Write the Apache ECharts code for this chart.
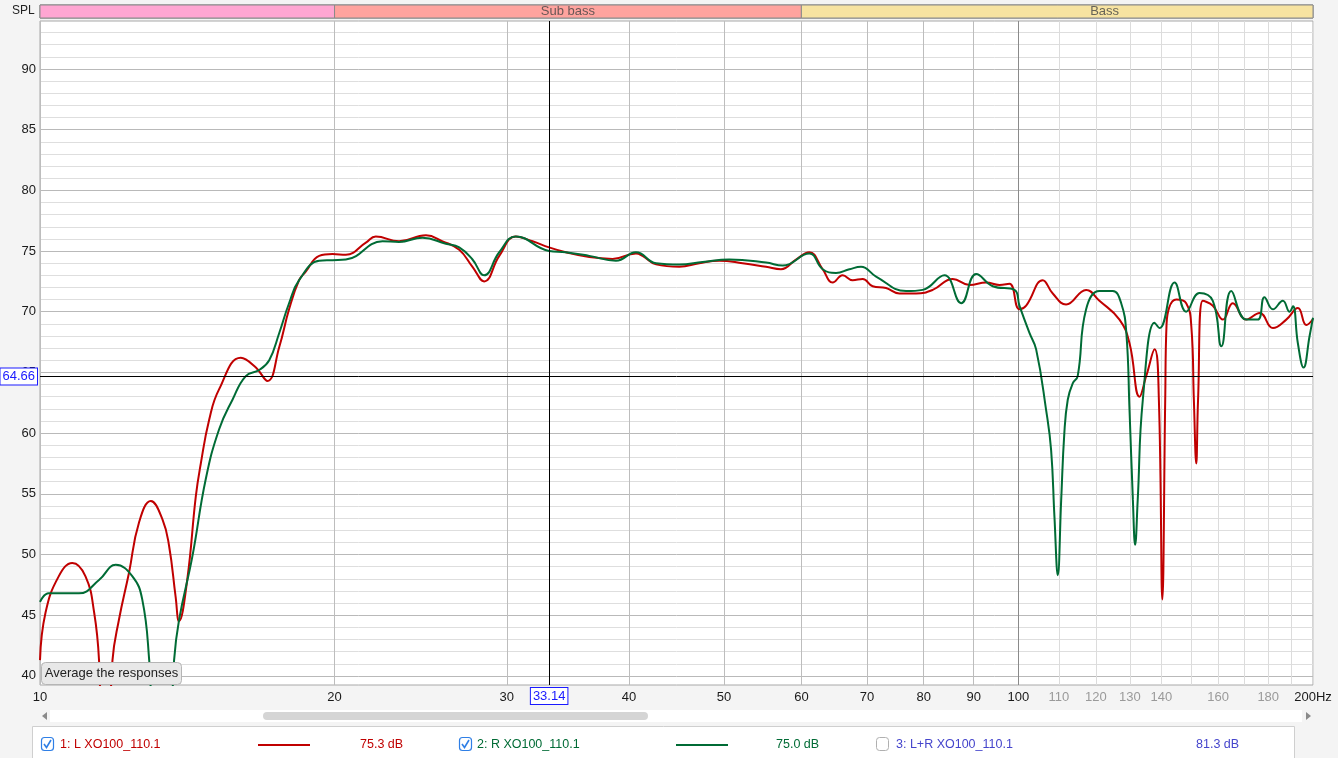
<!DOCTYPE html>
<html>
<head>
<meta charset="utf-8">
<script src="https://cdn.jsdelivr.net/npm/echarts@6/dist/echarts.min.js"></script>
<style>
html,body{margin:0;padding:0;background:#f4f4f4;}
#c{width:1338px;height:758px;}
</style>
</head>
<body>
<div id="c"></div>
<script>
// ---------- data ----------
const freqL = [10.0,10.13,10.45,10.79,11.13,11.36,11.49,11.6,11.7,11.86,12.04,12.33,12.62,12.98,13.34,13.55,13.76,13.87,14.14,14.43,14.6,14.89,15.24,16.04,16.62,17.08,17.56,17.97,18.4,18.69,19.29,19.9,20.54,21.53,22.04,23.28,24.8,25.79,26.82,27.67,28.44,29.47,30.64,31.87,33.14,34.46,36.42,38.47,40.65,41.29,42.62,45.02,47.19,49.46,52.24,55.21,57.19,59.24,61.13,63.08,64.58,66.12,67.69,69.31,70.96,73.23,75.56,78.59,81.73,85.67,89.12,92.69,95.63,97.91,100.23,101.83,105.88,108.41,111.86,117.26,120.99,126.84,129.87,132.96,135.08,137.76,139.16,140.3,141.25,141.7,144.98,148.4,150.2,151.1,151.95,152.6,154.3,158.0,161.8,165.6,170.9,176.4,182.0,187.8,193.0,196.9,200];
const splL = [41.3,45.2,48.2,49.3,48.2,45.2,41.3,31,31,41.3,44.6,48.5,52.6,54.4,52.9,50.7,46.5,44.5,47.9,54.8,57.5,61.1,63.6,66.2,65.4,64.3,67.1,70.2,72.6,73.3,74.6,74.75,74.7,75.7,76.2,75.8,76.3,75.8,75.1,73.7,72.5,74.6,76.2,75.8,75.3,74.9,74.5,74.35,74.8,74.6,73.9,73.7,74.0,74.2,74.0,73.7,73.5,74.3,74.9,73.5,72.4,73.0,72.6,72.7,72.1,71.95,71.5,71.5,71.8,72.7,72.2,72.4,72.2,72.3,70.2,70.5,72.6,71.5,70.6,71.8,70.9,69.35,67.4,63.0,64.7,66.9,62.75,46.3,62.75,69.0,71.0,70.7,68.8,62.75,57.5,62.75,70.9,70.5,69.35,70.7,69.35,69.9,68.65,69.35,70.3,68.9,69.4];

const freqR = [10.0,10.21,10.96,11.49,11.95,12.43,12.72,12.93,13.15,13.5,13.71,13.87,14.31,14.77,15.24,15.73,16.23,16.75,17.15,17.56,17.97,18.4,19.29,19.9,20.54,22.39,23.28,24.6,25.99,26.82,27.67,28.44,29.47,30.64,33.14,34.46,36.42,38.78,40.65,42.62,45.02,47.56,50.63,55.21,57.41,61.13,63.08,65.1,67.18,69.04,71.53,76.76,79.82,84.01,87.39,90.54,94.13,99.06,100.23,102.62,104.25,106.73,107.99,108.84,109.69,110.58,111.4,112.3,113.62,114.96,117.26,120.99,124.85,127.35,128.9,129.87,130.9,131.6,132.4,134.0,137.76,139.39,144.4,148.4,153.1,158.0,161.2,165.0,170.9,175.6,178.4,182.0,186.3,189.3,190.8,193.0,195.6,198.4,200];
const splR = [46.1,46.8,46.8,47.9,49.15,48.2,46.3,41.3,32,32,41.3,44.6,49.8,56.2,60.3,62.75,64.7,65.2,66.0,68.25,70.7,72.6,74.2,74.25,74.3,75.8,75.75,76.1,75.6,75.3,74.3,73.0,74.9,76.2,75.0,74.9,74.6,74.2,74.9,74.0,73.9,74.1,74.3,74.05,73.8,74.8,73.5,73.2,73.5,73.7,72.9,71.7,71.8,73.0,70.7,73.1,72.1,71.8,70.5,68.25,66.9,61.9,58.6,53.1,48.3,54.5,60.0,62.75,64.1,64.7,70.2,71.7,71.7,70.7,68.25,61.9,54.5,50.8,54.5,62.75,69.1,68.65,72.4,70.0,71.55,70.9,67.15,71.7,69.35,69.35,71.2,70.2,70.9,70.0,70.45,67.4,65.4,68.0,69.5];

const xTicks = [10,20,30,40,50,60,70,80,90,100,110,120,130,140,150,160,170,180,190,200];
const xLabels = [10,20,30,40,50,60,70,80,90,100,110,120,130,140,160,180,200];
const yTicks = [40,41,42,43,44,45,46,47,48,49,50,51,52,53,54,55,56,57,58,59,60,61,62,63,64,65,66,67,68,69,70,71,72,73,74,75,76,77,78,79,80,81,82,83,84,85,86,87,88,89,90,91,92,93];
const yLabels = [40,45,50,55,60,65,70,75,80,85,90];

const bandNames = ['', 'Sub bass', 'Bass'];
const bandEdges = [[10, 20], [20, 60], [60, 250]];

const cursorHz = 33.14;
const cursorDb = 64.66;

const legendNames = ['1: L XO100_110.1', '2: R XO100_110.1', '3: L+R XO100_110.1'];
const legendLevels = ['75.3 dB', '75.0 dB', '81.3 dB'];

// ---------- styles ----------
const RED = '#c00000';
const GREEN = '#006b35';
const BLUE = '#4545cc';
const FONT = '"Liberation Sans", Arial, Helvetica, sans-serif';
const bandColors = ['#ffa6d2', '#ffa39e', '#f7e3a1'];

function xLineColor(v) {
  if (v === 100) return '#8a8a8a';
  if (v > 100) return '#dcdcdc';
  return '#bdbdbd';
}
function xLabelColor(v) {
  if (v > 100 && v < 200) return '#9a9a9a';
  return '#1a1a1a';
}

const chart = echarts.init(document.getElementById('c'), null, {renderer: 'canvas'});

const gridLines = xTicks.map(v => {
  const has = xLabels.indexOf(v) >= 0;
  return {
    xAxis: v,
    lineStyle: {color: xLineColor(v), width: 1, type: 'solid'},
    label: {
      show: has,
      position: 'start',
      distance: 6,
      formatter: v === 200 ? '200Hz' : String(v),
      color: xLabelColor(v),
      fontSize: 13,
      fontFamily: FONT
    }
  };
});

const option = {
  animation: false,
  backgroundColor: '#f4f4f4',
  grid: [
    {left: 40, right: 25, top: 21, bottom: 73, show: true, backgroundColor: '#ffffff', borderColor: '#a8a8a8', borderWidth: 1},
    {left: 40, right: 25, top: 5, height: 13, show: true, backgroundColor: 'transparent', borderColor: '#777777', borderWidth: 1}
  ],
  xAxis: [
    {type: 'log', gridIndex: 0, min: 10, max: 200, logBase: 10,
      axisLine: {show: false}, axisTick: {show: false}, axisLabel: {show: false}, splitLine: {show: false}},
    {type: 'log', gridIndex: 1, min: 10, max: 200, logBase: 10,
      axisLine: {show: false}, axisTick: {show: false}, axisLabel: {show: false}, splitLine: {show: false}}
  ],
  yAxis: [
    {type: 'value', gridIndex: 0, min: 39.25, max: 93.95,
      axisLine: {show: false},
      axisTick: {show: false, customValues: yTicks},
      axisLabel: {customValues: yLabels, color: '#1a1a1a', fontSize: 13, fontFamily: FONT, margin: 4},
      splitLine: {show: true, lineStyle: {color: ['#b9b9b9', '#dedede', '#dedede', '#dedede', '#dedede'], width: 1}}},
    {type: 'value', gridIndex: 1, min: 0, max: 1, show: false}
  ],
  series: [
    {
      type: 'line', name: 'grid', xAxisIndex: 0, yAxisIndex: 0, data: [], silent: true, z: 1,
      markLine: {silent: true, symbol: ['none', 'none'], z: 1, animation: false, data: gridLines}
    },
    {
      type: 'line', name: legendNames[0], xAxisIndex: 0, yAxisIndex: 0,
      data: freqL.map((f, i) => [f, splL[i]]),
      smooth: 0.45, showSymbol: false, clip: true, z: 3,
      lineStyle: {color: RED, width: 2}, itemStyle: {color: RED}
    },
    {
      type: 'line', name: legendNames[1], xAxisIndex: 0, yAxisIndex: 0,
      data: freqR.map((f, i) => [f, splR[i]]),
      smooth: 0.45, showSymbol: false, clip: true, z: 4,
      lineStyle: {color: GREEN, width: 2}, itemStyle: {color: GREEN}
    },
    {
      type: 'line', name: 'cursor', xAxisIndex: 0, yAxisIndex: 0, data: [], silent: true, z: 10,
      markLine: {
        silent: true, symbol: ['none', 'none'], z: 10, animation: false,
        lineStyle: {color: '#000', width: 1, type: 'solid'},
        data: [
          {xAxis: cursorHz, label: {show: true, position: 'start', distance: 3, formatter: String(cursorHz),
            color: '#1a1aff', fontSize: 13, fontFamily: FONT, backgroundColor: '#fff', borderColor: '#1a1aff', borderWidth: 1, padding: [2, 2, 1, 2]}},
          {yAxis: cursorDb, label: {show: true, position: 'start', distance: 3, formatter: String(cursorDb),
            color: '#1a1aff', fontSize: 13, fontFamily: FONT, backgroundColor: '#fff', borderColor: '#1a1aff', borderWidth: 1, padding: [2, 2, 1, 2]}}
        ]
      }
    },
    {
      type: 'line', name: 'bands', xAxisIndex: 1, yAxisIndex: 1, data: [], silent: true,
      markArea: {
        silent: true, animation: false,
        data: bandEdges.map((e, i) => [
          {xAxis: Math.max(e[0], 10), itemStyle: {color: bandColors[i], borderColor: '#8a8a8a', borderWidth: 1}},
          {xAxis: Math.min(e[1], 200)}
        ])
      }
    },
    {
      type: 'scatter', name: 'bandLabels', xAxisIndex: 1, yAxisIndex: 1, silent: true,
      symbolSize: 1, itemStyle: {color: 'rgba(0,0,0,0)'},
      data: bandEdges.map((e, i) => ({value: [Math.sqrt(e[0] * e[1]), 0.5], name: bandNames[i]})),
      label: {show: true, position: 'inside', formatter: p => p.name, color: '#444', fontSize: 13, fontFamily: FONT}
    }
  ],
  graphic: [
    {type: 'text', left: 12, top: 5, style: {text: 'SPL', fill: '#222', font: '12px ' + FONT}},
    // "Average the responses" button
    {type: 'rect', shape: {x: 41.5, y: 662.5, width: 140, height: 22, r: 4}, style: {fill: '#e8e8e8', stroke: '#b5b5b5', lineWidth: 1}, z: 20},
    {type: 'text', x: 111.5, y: 673.5, style: {text: 'Average the responses', fill: '#222', font: '13px ' + FONT, align: 'center', verticalAlign: 'middle'}, z: 21},
    // scrollbar
    {type: 'rect', shape: {x: 50, y: 710, width: 1252, height: 12}, style: {fill: '#ffffff'}},
    {type: 'rect', shape: {x: 263, y: 712, width: 385, height: 8, r: 4}, style: {fill: '#d5d5d5'}},
    {type: 'polygon', shape: {points: [[42, 716], [47, 712], [47, 720]]}, style: {fill: '#8a8a8a'}},
    {type: 'polygon', shape: {points: [[1311, 716], [1306, 712], [1306, 720]]}, style: {fill: '#8a8a8a'}},
    // legend panel
    {type: 'rect', shape: {x: 32.5, y: 726.5, width: 1262, height: 40}, style: {fill: '#ffffff', stroke: '#cfcfcf', lineWidth: 1}},
    // item 1
    {type: 'rect', shape: {x: 41.5, y: 737.5, width: 12, height: 13, r: 3}, style: {fill: '#fff', stroke: '#2f7fe6', lineWidth: 1.2}},
    {type: 'polyline', shape: {points: [[44, 744], [46.5, 747.5], [51, 740]]}, style: {stroke: '#2f7fe6', lineWidth: 1.6, fill: null}},
    {type: 'text', x: 60, y: 744.5, style: {text: legendNames[0], fill: RED, font: '12.5px ' + FONT, verticalAlign: 'middle'}},
    {type: 'line', shape: {x1: 258, y1: 745, x2: 310, y2: 745}, style: {stroke: RED, lineWidth: 2}},
    {type: 'text', x: 360, y: 744.5, style: {text: legendLevels[0], fill: RED, font: '12.5px ' + FONT, verticalAlign: 'middle'}},
    // item 2
    {type: 'rect', shape: {x: 459.5, y: 737.5, width: 12, height: 13, r: 3}, style: {fill: '#fff', stroke: '#2f7fe6', lineWidth: 1.2}},
    {type: 'polyline', shape: {points: [[462, 744], [464.5, 747.5], [469, 740]]}, style: {stroke: '#2f7fe6', lineWidth: 1.6, fill: null}},
    {type: 'text', x: 477, y: 744.5, style: {text: legendNames[1], fill: GREEN, font: '12.5px ' + FONT, verticalAlign: 'middle'}},
    {type: 'line', shape: {x1: 676, y1: 745, x2: 728, y2: 745}, style: {stroke: GREEN, lineWidth: 2}},
    {type: 'text', x: 776, y: 744.5, style: {text: legendLevels[1], fill: GREEN, font: '12.5px ' + FONT, verticalAlign: 'middle'}},
    // item 3
    {type: 'rect', shape: {x: 876.5, y: 737.5, width: 12, height: 13, r: 3}, style: {fill: '#fff', stroke: '#b0b0b0', lineWidth: 1}},
    {type: 'text', x: 896, y: 744.5, style: {text: legendNames[2], fill: BLUE, font: '12.5px ' + FONT, verticalAlign: 'middle'}},
    {type: 'text', x: 1196, y: 744.5, style: {text: legendLevels[2], fill: BLUE, font: '12.5px ' + FONT, verticalAlign: 'middle'}}
  ]
};

chart.setOption(option);
</script>
</body>
</html>
